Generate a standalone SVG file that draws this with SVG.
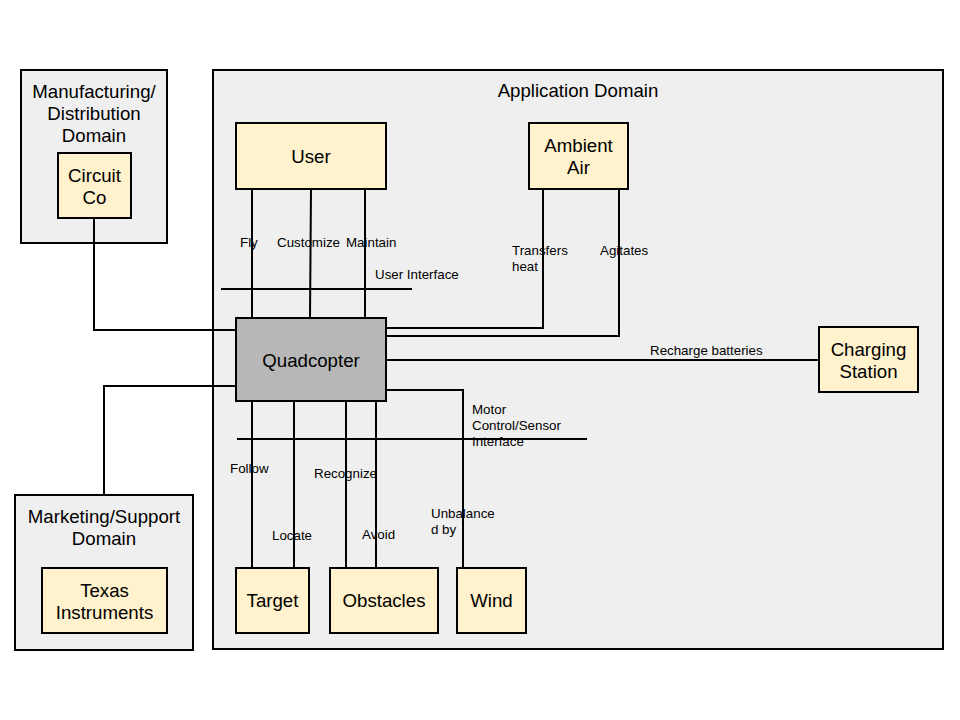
<svg xmlns="http://www.w3.org/2000/svg" width="960" height="720" viewBox="0 0 960 720">
<style>
.dom{fill:#efefef;stroke:#000;stroke-width:2}
.node{fill:#fff2cc;stroke:#000;stroke-width:2}
.core{fill:#b7b7b7;stroke:#000;stroke-width:2}
.big{font-family:"Liberation Sans",Arial,sans-serif;font-size:18.67px;fill:#000;text-anchor:middle}
.sm{font-family:"Liberation Sans",Arial,sans-serif;font-size:13.33px;fill:#000}
.ln{fill:none;stroke:#000;stroke-width:2}
</style>
<rect width="960" height="720" fill="#fff"/>
<g id="manufacturing-domain">
<rect class="dom" x="21" y="70" width="146" height="173"/>
<text class="big" x="94" y="98">Manufacturing/</text>
<text class="big" x="94" y="120">Distribution</text>
<text class="big" x="94" y="142">Domain</text>
</g>
<g id="application-domain">
<rect class="dom" x="213" y="70" width="730" height="579"/>
<text class="big" x="578" y="97">Application Domain</text>
</g>
<g id="marketing-domain">
<rect class="dom" x="15" y="495" width="178" height="155"/>
<text class="big" x="104" y="523">Marketing/Support</text>
<text class="big" x="104" y="545">Domain</text>
</g>
<g id="connectors">
<polyline class="ln" points="94,218 94,330 236,330"/>
<polyline class="ln" points="104,495 104,386 236,386"/>
<line class="ln" x1="252" y1="189" x2="252" y2="318"/>
<line class="ln" x1="311" y1="189" x2="310" y2="318"/>
<line class="ln" x1="365" y1="189" x2="365" y2="318"/>
<line class="ln" x1="221" y1="289" x2="412" y2="289"/>
<polyline class="ln" points="543,189 543,328 386,328"/>
<polyline class="ln" points="619,189 619,336 386,336"/>
<line class="ln" x1="386" y1="360" x2="819" y2="360"/>
<polyline class="ln" points="386,390 463,390 463,568"/>
<line class="ln" x1="237" y1="439" x2="587" y2="439"/>
<line class="ln" x1="252" y1="401" x2="252" y2="568"/>
<line class="ln" x1="294" y1="401" x2="294" y2="568"/>
<line class="ln" x1="346" y1="401" x2="346" y2="568"/>
<line class="ln" x1="376" y1="401" x2="376" y2="568"/>
<text class="sm" x="240" y="247">Fly</text>
<text class="sm" x="277" y="247">Customize</text>
<text class="sm" x="346" y="247">Maintain</text>
<text class="sm" x="375" y="279">User Interface</text>
<text class="sm" x="512" y="255">Transfers</text>
<text class="sm" x="512" y="271">heat</text>
<text class="sm" x="600" y="255">Agitates</text>
<text class="sm" x="650" y="355">Recharge batteries</text>
<text class="sm" x="472" y="414">Motor</text>
<text class="sm" x="472" y="430">Control/Sensor</text>
<text class="sm" x="472" y="446">Interface</text>
<text class="sm" x="230" y="473">Follow</text>
<text class="sm" x="314" y="478">Recognize</text>
<text class="sm" x="272" y="540">Locate</text>
<text class="sm" x="362" y="539">Avoid</text>
<text class="sm" x="431" y="518">Unbalance</text>
<text class="sm" x="431" y="534">d by</text>
</g>
<g id="circuit-co">
<rect class="node" x="58" y="153" width="73" height="65"/>
<text class="big" x="94.5" y="182">Circuit</text>
<text class="big" x="94.5" y="204">Co</text>
</g>
<g id="user">
<rect class="node" x="236" y="123" width="150" height="66"/>
<text class="big" x="311" y="163">User</text>
</g>
<g id="ambient-air">
<rect class="node" x="529" y="123" width="99" height="66"/>
<text class="big" x="578.5" y="152">Ambient</text>
<text class="big" x="578.5" y="174">Air</text>
</g>
<g id="quadcopter">
<rect class="core" x="236" y="318" width="150" height="83"/>
<text class="big" x="311" y="367">Quadcopter</text>
</g>
<g id="charging-station">
<rect class="node" x="819" y="327" width="99" height="65"/>
<text class="big" x="868.5" y="356">Charging</text>
<text class="big" x="868.5" y="378">Station</text>
</g>
<g id="target">
<rect class="node" x="236" y="568" width="73" height="65"/>
<text class="big" x="272.5" y="607">Target</text>
</g>
<g id="obstacles">
<rect class="node" x="330" y="568" width="108" height="65"/>
<text class="big" x="384" y="607">Obstacles</text>
</g>
<g id="wind">
<rect class="node" x="457" y="568" width="69" height="65"/>
<text class="big" x="491.5" y="607">Wind</text>
</g>
<g id="texas-instruments">
<rect class="node" x="42" y="568" width="125" height="65"/>
<text class="big" x="104.5" y="597">Texas</text>
<text class="big" x="104.5" y="619">Instruments</text>
</g>
</svg>
